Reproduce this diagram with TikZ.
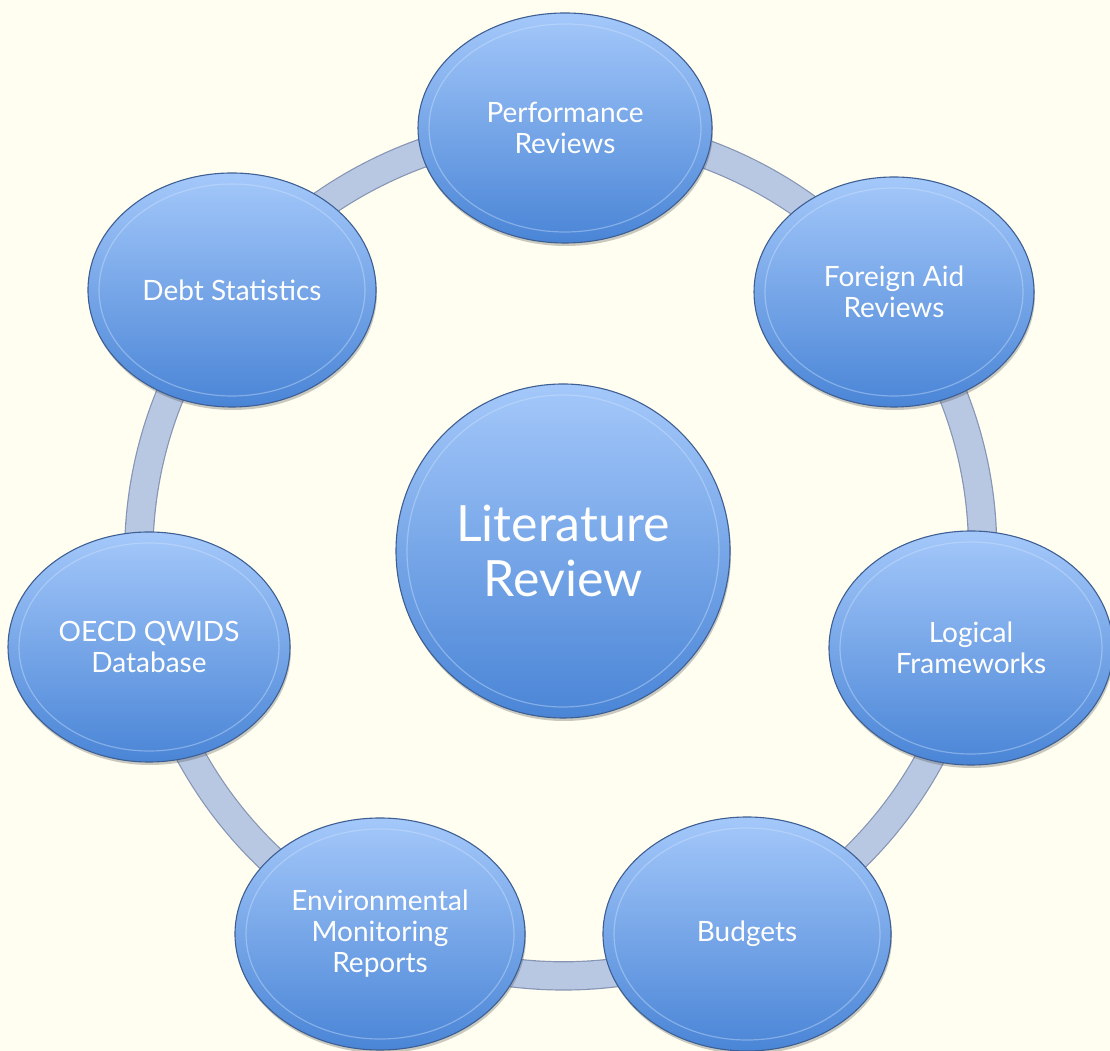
\documentclass[tikz,border=0pt]{standalone}
\usepackage{fontspec}
\setmainfont{Lato}
\usetikzlibrary{shapes.geometric,shadows,backgrounds}
\definecolor{bg}{HTML}{FFFEF0}
\definecolor{topblue}{HTML}{A4C8FA}
\definecolor{midblue}{HTML}{7AA8EC}
\definecolor{botblue}{HTML}{4A85D6}
\definecolor{edgeblue}{HTML}{3E5F93}
\definecolor{rimlight}{HTML}{D2E5FD}
\definecolor{ringfill}{HTML}{B8C8E3}
\definecolor{ringedge}{HTML}{8595B3}
\newcommand\bubble[6]{%
  \node[bub, minimum width=#4pt, minimum height=#5pt] (#1) at (#2,#3) {#6};
  \draw[rim] (#1.center) ellipse[x radius={#4/2-11}, y radius={#5/2-11}];}
\begin{document}
\begin{tikzpicture}[x=1pt,y=1pt,
  bub/.style={ellipse, draw=edgeblue, line width=1.1pt,
    top color=topblue, middle color=midblue, bottom color=botblue,
    text=white, align=center, inner sep=0pt,
    font=\fontsize{28}{31}\selectfont,
    drop shadow={shadow xshift=1pt, shadow yshift=-3pt, opacity=0.3, fill=black!70}},
  rim/.style={draw=rimlight, draw opacity=0.4, line width=1.2pt},
  ringband/.style={draw=ringedge, line width=1.2pt, double=ringfill, double distance=27pt}]
\useasboundingbox (0,0) rectangle (1110,1051);

% outer nodes
\bubble{perf}{565}{923}{294}{230}{Performance\\Reviews}
\bubble{aid}{894}{759}{280}{230}{Foreign Aid\\Reviews}
\bubble{logic}{971}{403}{284}{234}{Logical\\Frameworks}
\bubble{budg}{747}{117}{288}{234}{Budgets}
\bubble{env}{380}{117}{290}{232}{Environmental\\Monitoring\\Reports}
\bubble{oecd}{149}{404}{282}{230}{OECD QWIDS\\Database}
\bubble{debt}{232}{761}{288}{234}{Debt Statistics}

% centre
\node[bub, circle, minimum size=334pt, font=\fontsize{50}{55}\selectfont] (lit) at (563,500) {Literature\\Review};
\draw[rim] (lit.center) circle[radius=156];

\begin{pgfonlayer}{background}
  \fill[bg] (0,0) rectangle (1110,1051);
  \draw[ringband] (perf.center) to[bend left=25.7, looseness=0.9] (aid.center);
  \draw[ringband] (aid.center) to[bend left=25.7, looseness=0.9] (logic.center);
  \draw[ringband] (logic.center) to[bend left=25.7, looseness=0.9] (budg.center);
  \draw[ringband] (budg.center) to[bend left=25.7, looseness=0.9] (env.center);
  \draw[ringband] (env.center) to[bend left=25.7, looseness=0.9] (oecd.center);
  \draw[ringband] (oecd.center) to[bend left=25.7, looseness=0.9] (debt.center);
  \draw[ringband] (debt.center) to[bend left=25.7, looseness=0.9] (perf.center);
\end{pgfonlayer}
\end{tikzpicture}
\end{document}
